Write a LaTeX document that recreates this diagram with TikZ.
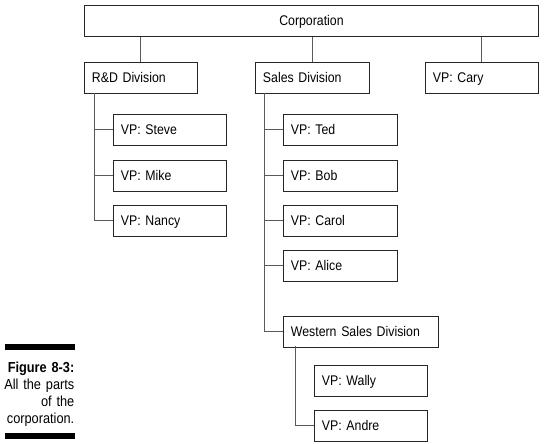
\documentclass[tikz,border=0pt]{standalone}
\usepackage{fontspec}
\setmainfont{Liberation Sans}[FakeStretch=0.88]
\begin{document}
\begin{tikzpicture}[x=1pt,y=-1pt,
  box/.style={draw=black!85, line width=0.9pt, rectangle, anchor=north west,
    minimum height=31pt, inner xsep=7.5pt, inner ysep=0pt, align=left,
    text height=10pt, text depth=0pt,
    font=\fontsize{14}{16}\selectfont},
  conn/.style={draw=black!65, line width=1pt},
  bar/.style={fill=black, draw=none}]
\useasboundingbox (0,0) rectangle (549,444);
% top level
\node[box, minimum width=454pt, align=center, inner xsep=0pt] (corp) at (84,5) {Corporation};
\node[box, text width=98pt] (rd) at (84,62) {R\&D Division};
\node[box, text width=99pt] (sales) at (255,62) {Sales Division};
\node[box, text width=98pt] (cary) at (425,62) {VP: Cary};
% R&D
\node[box, text width=98pt] (steve) at (113,114) {VP: Steve};
\node[box, text width=98pt] (mike) at (113,159.5) {VP: Mike};
\node[box, text width=98pt] (nancy) at (113,204.5) {VP: Nancy};
% Sales
\node[box, text width=99pt] (ted) at (283,114) {VP: Ted};
\node[box, text width=99pt] (bob) at (283,159.5) {VP: Bob};
\node[box, text width=99pt] (carol) at (283,204.5) {VP: Carol};
\node[box, text width=99pt] (alice) at (283,249.5) {VP: Alice};
\node[box, text width=140pt] (west) at (283,315.5) {Western Sales Division};
\node[box, text width=98pt] (wally) at (314,365) {VP: Wally};
\node[box, text width=98pt] (andre) at (314,410) {VP: Andre};
% connectors
\draw[conn] (rd.north |- corp.south) -- (rd.north);
\draw[conn] (sales.north |- corp.south) -- (sales.north);
\draw[conn] (cary.north |- corp.south) -- (cary.north);
\coordinate (rdt) at (94,93);
\draw[conn] (rdt) |- (nancy.west);
\draw[conn] (rdt |- steve.west) -- (steve.west);
\draw[conn] (rdt |- mike.west) -- (mike.west);
\coordinate (st) at (264,93);
\draw[conn] (st) |- (west.west);
\draw[conn] (st |- ted.west) -- (ted.west);
\draw[conn] (st |- bob.west) -- (bob.west);
\draw[conn] (st |- carol.west) -- (carol.west);
\draw[conn] (st |- alice.west) -- (alice.west);
\coordinate (wt) at (295,346);
\draw[conn] (wt) |- (andre.west);
% caption
\path[bar] (5,344) rectangle (74.5,349.5);
\path[bar] (5,433) rectangle (74.5,438.5);
\node[anchor=base east, align=right, inner sep=0pt, text width=90pt,
  font=\fontsize{14.5}{17.3}\selectfont] (cap) at (74.5,372)
  {\textbf{Figure 8-3:}\\All the parts\\of the\\corporation.};
\end{tikzpicture}
\end{document}
